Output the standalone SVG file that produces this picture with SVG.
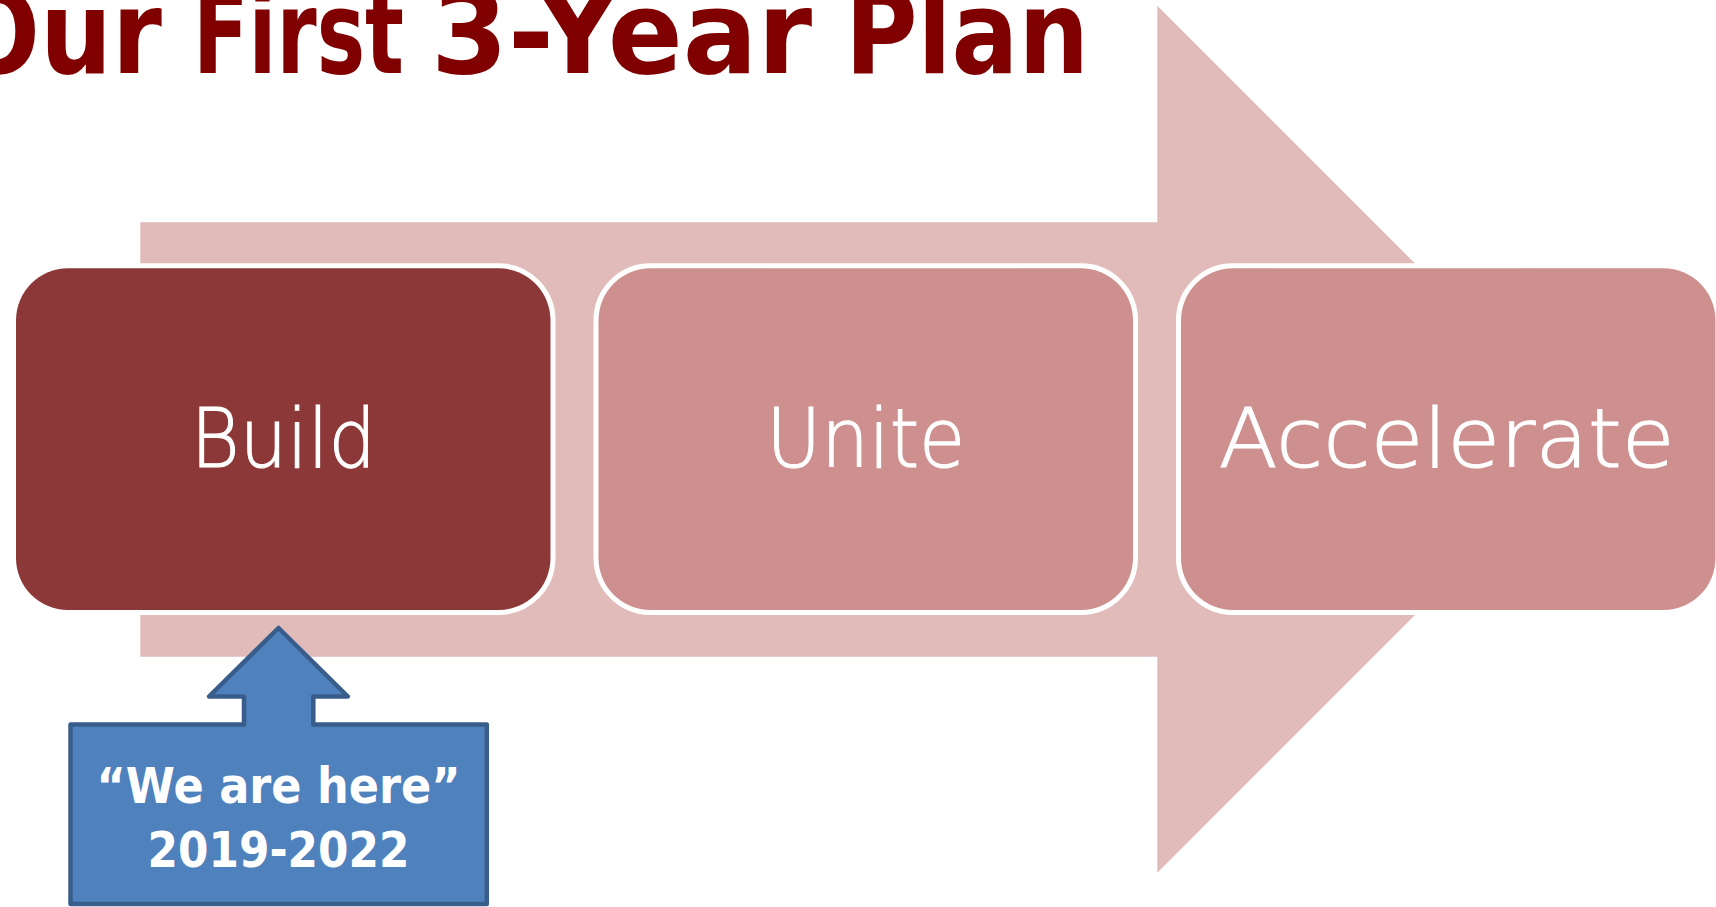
<svg xmlns="http://www.w3.org/2000/svg" width="1716" height="907" viewBox="0 0 1716 907">
  <style>
    .title { font-family: "Century Gothic", "DejaVu Sans", sans-serif; font-weight: bold; font-size: 115px; fill: #800000; }
    .box { stroke: #FFFFFF; stroke-width: 10; paint-order: stroke; }
    .box-dark { fill: #8C3838; }
    .box-light { fill: #CE908F; }
    .label { font-family: "Century Gothic", "DejaVu Sans", sans-serif; font-weight: 200; font-size: 82px; fill: #FFFFFF; stroke: #FFFFFF; stroke-width: 1.2; text-anchor: middle; }
    .callout { fill: #4F81BD; stroke: #385D8A; stroke-width: 4.5; stroke-linejoin: round; }
    .callout-text { font-family: "Century Gothic", "DejaVu Sans", sans-serif; font-weight: bold; font-size: 49px; fill: #FFFFFF; text-anchor: middle; }
  </style>

  <rect x="0" y="0" width="1716" height="907" fill="#FFFFFF"/>

  <!-- Background process arrow -->
  <g id="process-arrow">
    <polygon points="140.3,222.3 1157.3,222.3 1157.3,5.7 1590.8,439.2 1157.3,872.7 1157.3,656.7 140.3,656.7" fill="#E0BBBA"/>
  </g>

  <!-- Title -->
  <g id="title">
    <text class="title" x="-46" y="72.7" textLength="208" lengthAdjust="spacingAndGlyphs">Our</text>
    <text class="title" x="193" y="72.7" textLength="211" lengthAdjust="spacingAndGlyphs">First</text>
    <text class="title" x="431" y="72.7" textLength="381" lengthAdjust="spacingAndGlyphs">3-Year</text>
    <text class="title" x="845" y="72.7" textLength="244" lengthAdjust="spacingAndGlyphs">Plan</text>
  </g>

  <!-- Nodes -->
  <g id="node-build">
    <rect class="box box-dark" x="16" y="268.3" width="534.5" height="341.7" rx="52" ry="52"/>
    <text class="label" x="283.3" y="467" textLength="185" lengthAdjust="spacingAndGlyphs">Build</text>
  </g>
  <g id="node-unite">
    <rect class="box box-light" x="598.5" y="268.3" width="534.5" height="341.7" rx="52" ry="52"/>
    <text class="label" x="865.8" y="467" textLength="199" lengthAdjust="spacingAndGlyphs">Unite</text>
  </g>
  <g id="node-accelerate">
    <rect class="box box-light" x="1181" y="268.3" width="534.5" height="341.7" rx="52" ry="52"/>
    <text class="label" x="1446.7" y="467" textLength="456" lengthAdjust="spacingAndGlyphs">Accelerate</text>
  </g>

  <!-- Callout -->
  <g id="node-callout">
    <path class="callout" d="M 278.5 628 L 347.8 696.5 L 313.3 696.5 L 313.3 724.5 L 486.8 724.5 L 486.8 904 L 70.5 904 L 70.5 724.5 L 244 724.5 L 244 696.5 L 209 696.5 Z"/>
    <text class="callout-text" x="278.5" y="802.7" textLength="364" lengthAdjust="spacingAndGlyphs">“We are here”</text>
    <text class="callout-text" x="278.5" y="866.7" textLength="262" lengthAdjust="spacingAndGlyphs">2019-2022</text>
  </g>

  <g id="connectors"></g>
</svg>
